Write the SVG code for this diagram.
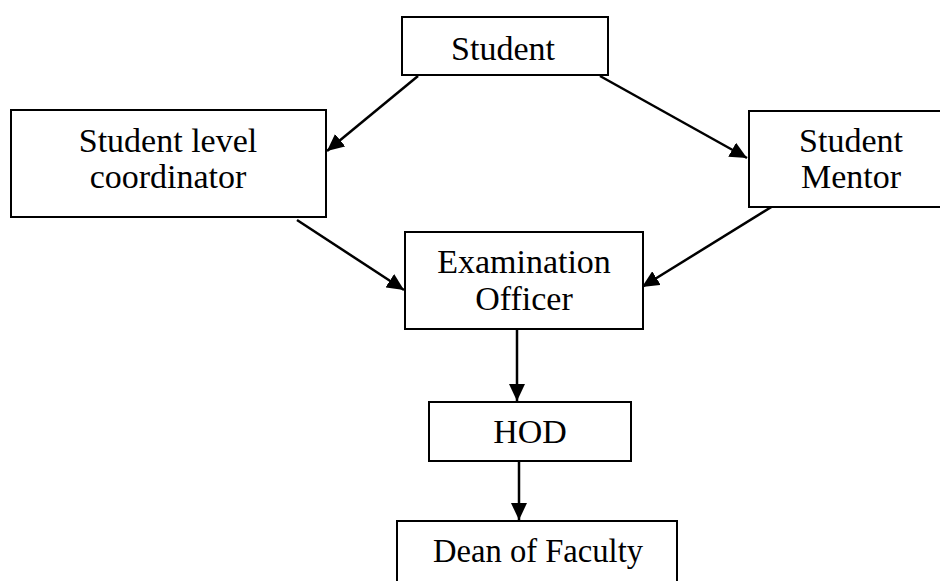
<svg xmlns="http://www.w3.org/2000/svg" width="940" height="581" viewBox="0 0 940 581">
<style>
rect{fill:#fff;stroke:#000;stroke-width:2}
text{font-family:"Liberation Serif","Times New Roman",serif;font-size:34px;fill:#000;text-anchor:middle}
.c line{stroke:#000;stroke-width:2.5}
</style>
<defs>
<marker id="a" markerUnits="userSpaceOnUse" markerWidth="18" markerHeight="16" refX="17" refY="8" orient="auto">
<path d="M0,0 L17,8 L0,16 z" fill="#000"/>
</marker>
</defs>
<rect x="0" y="0" width="940" height="581" style="stroke:none"/>
<g class="c">
<line x1="418" y1="76" x2="327" y2="151" marker-end="url(#a)"/>
<line x1="600" y1="76" x2="747" y2="158" marker-end="url(#a)"/>
<line x1="297" y1="220" x2="404" y2="290" marker-end="url(#a)"/>
<line x1="773" y1="206" x2="642" y2="287" marker-end="url(#a)"/>
<line x1="517" y1="330" x2="517" y2="401" marker-end="url(#a)"/>
<line x1="519" y1="462" x2="519" y2="520" marker-end="url(#a)"/>
</g>
<g id="student"><rect x="402" y="17" width="206" height="58"/><text x="503" y="60">Student</text></g>
<g id="slc"><rect x="11" y="110" width="315" height="107"/><text x="168" y="152">Student level</text><text x="168" y="188">coordinator</text></g>
<g id="mentor"><rect x="749" y="111" width="200" height="96"/><text x="851" y="152">Student</text><text x="851" y="188">Mentor</text></g>
<g id="exam"><rect x="405" y="232" width="238" height="97"/><text x="524" y="273">Examination</text><text x="524" y="310">Officer</text></g>
<g id="hod"><rect x="429" y="402" width="202" height="59"/><text x="530" y="443">HOD</text></g>
<g id="dean"><rect x="397" y="521" width="280" height="70"/><text x="538" y="562" textLength="210" lengthAdjust="spacingAndGlyphs">Dean of Faculty</text></g>
</svg>
